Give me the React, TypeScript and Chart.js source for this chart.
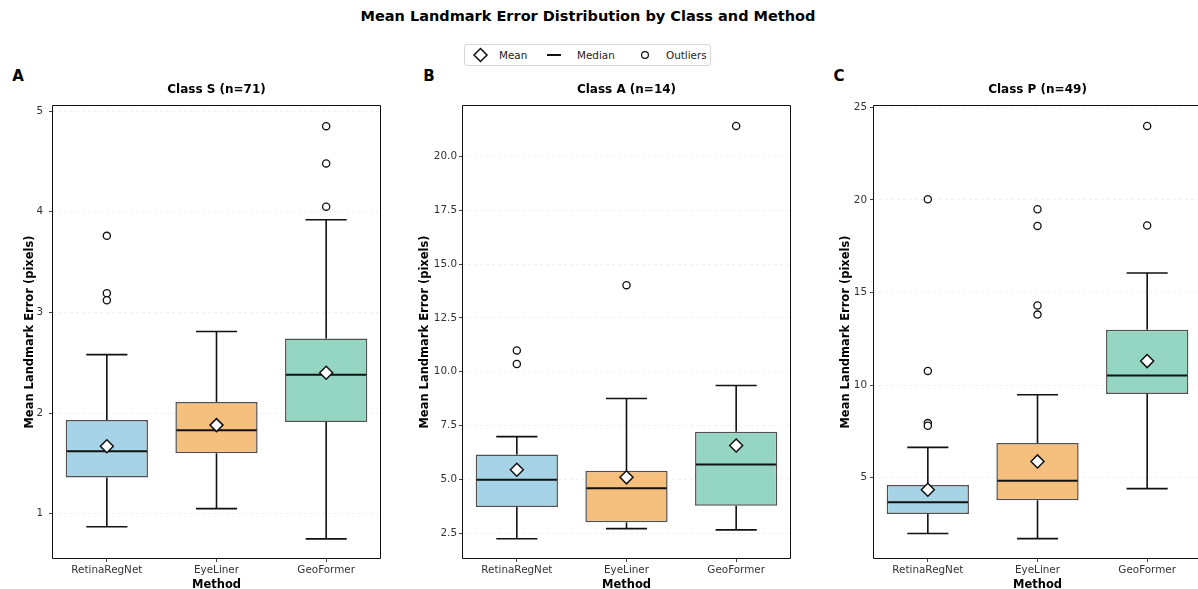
import React, { useEffect, useRef } from 'react';
import { Chart, registerables } from 'chart.js';

Chart.register(...registerables);

const FONT = "'DejaVu Sans', 'Liberation Sans', sans-serif";

// ---------- data ----------
const methods = ['RetinaRegNet', 'EyeLiner', 'GeoFormer'];
const panelTitles = ['Class S (n=71)', 'Class A (n=14)', 'Class P (n=49)'];
const panelLetters = ['A', 'B', 'C'];
const boxColors = ['#a6d4e6', '#f5bf7e', '#94d6c2'];

// Class S
const sQ1 = [1.36, 1.6, 1.91];
const sQ3 = [1.93, 2.11, 2.74];
const sMedian = [1.62, 1.83, 2.38];
const sMean = [1.67, 1.88, 2.4];
const sWhiskerLow = [0.87, 1.05, 0.75];
const sWhiskerHigh = [2.58, 2.81, 3.92];
const sOutliers = [[3.76, 3.19, 3.12], [], [4.85, 4.48, 4.05]];

// Class A
const aQ1 = [3.72, 3.01, 3.78];
const aQ3 = [6.16, 5.41, 7.22];
const aMedian = [4.99, 4.59, 5.69];
const aMean = [5.45, 5.1, 6.58];
const aWhiskerLow = [2.25, 2.72, 2.66];
const aWhiskerHigh = [6.99, 8.76, 9.36];
const aOutliers = [[10.99, 10.36], [14.02], [21.41]];

// Class P
const pQ1 = [3.04, 3.78, 9.52];
const pQ3 = [4.61, 6.87, 12.99];
const pMedian = [3.67, 4.84, 10.52];
const pMean = [4.35, 5.88, 11.3];
const pWhiskerLow = [1.99, 1.71, 4.41];
const pWhiskerHigh = [6.64, 9.48, 16.06];
const pOutliers = [[20.04, 10.77, 7.95, 7.81], [19.5, 18.6, 14.3, 13.81], [24.0, 18.62]];

// axis ranges / ticks
const yMins = [0.55, 1.31, 0.61];
const yMaxs = [5.06, 22.38, 25.13];
const yStepSizes = [1, 2.5, 5];
const yTickDecimals = [0, 1, 0];

const panelsData = [
  { q1: sQ1, q3: sQ3, med: sMedian, mean: sMean, lo: sWhiskerLow, hi: sWhiskerHigh, out: sOutliers },
  { q1: aQ1, q3: aQ3, med: aMedian, mean: aMean, lo: aWhiskerLow, hi: aWhiskerHigh, out: aOutliers },
  { q1: pQ1, q3: pQ3, med: pMedian, mean: pMean, lo: pWhiskerLow, hi: pWhiskerHigh, out: pOutliers },
];

// ---------- layout (not data) ----------
const CANVAS_TOP = 78;
const CANVAS_BOTTOM = 592;
const PLOT_TOP = 105;
const PLOT_BOTTOM = 559;
const layouts = [
  { left: 20, axisW: 32, plotW: 329, titlePad: 3, tickPad: 6 },
  { left: 412, axisW: 50, plotW: 329, titlePad: 6, tickPad: 2 },
  { left: 833, axisW: 40, plotW: 329, titlePad: 6, tickPad: 3 },
];

function BoxPanel({ idx }: { idx: number }) {
  const ref = useRef<HTMLCanvasElement | null>(null);
  const L = layouts[idx];
  const padRight = 3;
  const extra = 5;
  const width = L.axisW + L.plotW + padRight + extra;
  const height = CANVAS_BOTTOM - CANVAS_TOP;

  useEffect(() => {
    const d = panelsData[idx];
    const outlierPoints: { x: string; y: number }[] = [];
    d.out.forEach((arr, i) => arr.forEach((v) => outlierPoints.push({ x: methods[i], y: v })));

    const boxExtras = {
      id: 'boxExtras' + idx,
      afterDatasetDraw(chart: any, args: any) {
        if (args.index !== 0) return;
        const { ctx } = chart;
        const ys = chart.scales.y;
        const meta = chart.getDatasetMeta(0);
        ctx.save();
        ctx.strokeStyle = '#111';
        ctx.lineCap = 'butt';
        const line = (x1: number, y1: number, x2: number, y2: number) => {
          ctx.beginPath();
          ctx.moveTo(x1, y1);
          ctx.lineTo(x2, y2);
          ctx.stroke();
        };
        meta.data.forEach((bar: any, i: number) => {
          const x = bar.x;
          const w = bar.width;
          const yQ1 = ys.getPixelForValue(d.q1[i]);
          const yQ3 = ys.getPixelForValue(d.q3[i]);
          const yLo = ys.getPixelForValue(d.lo[i]);
          const yHi = ys.getPixelForValue(d.hi[i]);
          const yMed = ys.getPixelForValue(d.med[i]);
          ctx.lineWidth = 1.6;
          line(x, yQ3, x, yHi);
          line(x, yQ1, x, yLo);
          line(x - w / 4, yHi, x + w / 4, yHi);
          line(x - w / 4, yLo, x + w / 4, yLo);
          ctx.lineWidth = 2;
          line(x - w / 2 + 1, yMed, x + w / 2 - 1, yMed);
        });
        ctx.restore();
      },
    };

    const frame = {
      id: 'frame' + idx,
      afterDraw(chart: any) {
        const { ctx, chartArea } = chart;
        const l = Math.round(chartArea.left) + 0.5;
        const t = Math.round(chartArea.top) + 0.5;
        const r = Math.round(chartArea.right) - 0.5;
        const b = Math.round(chartArea.bottom) - 0.5;
        ctx.save();
        ctx.lineWidth = 1;
        ctx.strokeStyle = '#111';
        ctx.beginPath();
        ctx.moveTo(l, t);
        ctx.lineTo(r, t);
        ctx.lineTo(r, b);
        ctx.lineTo(l, b);
        ctx.closePath();
        ctx.stroke();
        ctx.fillStyle = '#000';
        ctx.font = `bold 12px ${FONT}`;
        ctx.textAlign = 'center';
        ctx.textBaseline = 'middle';
        ctx.fillText(panelTitles[idx], (chartArea.left + chartArea.right) / 2, chartArea.top - 15);
        ctx.restore();
      },
    };

    const chart = new Chart(ref.current as HTMLCanvasElement, {
      type: 'bar',
      data: {
        labels: methods,
        datasets: [
          {
            type: 'bar',
            data: d.q1.map((v, i) => [v, d.q3[i]]) as any,
            backgroundColor: boxColors,
            borderColor: '#505050',
            borderWidth: 1.5,
            borderSkipped: false,
            categoryPercentage: 1,
            barPercentage: 0.75,
            order: 3,
          } as any,
          {
            type: 'line',
            data: outlierPoints as any,
            showLine: false,
            pointStyle: 'circle',
            pointRadius: 3.6,
            pointBackgroundColor: '#fff',
            pointBorderColor: '#111',
            pointBorderWidth: 1.3,
            order: 2,
          } as any,
          {
            type: 'line',
            data: d.mean,
            showLine: false,
            pointStyle: 'rectRot',
            pointRadius: 6.5,
            pointBackgroundColor: '#fff',
            pointBorderColor: '#111',
            pointBorderWidth: 1.5,
            order: 1,
          } as any,
        ],
      },
      options: {
        responsive: false,
        animation: false,
        devicePixelRatio: 1,
        layout: { padding: { top: PLOT_TOP - CANVAS_TOP, right: padRight, left: 0, bottom: 0 } },
        plugins: {
          legend: { display: false },
          tooltip: { enabled: false },
          title: { display: false },
        },
        scales: {
          x: {
            type: 'category',
            offset: true,
            grid: {
              display: true,
              drawOnChartArea: false,
              offset: false,
              drawTicks: true,
              tickLength: 3,
              tickColor: '#444',
              tickWidth: 1,
            },
            border: { display: false },
            ticks: {
              color: '#333',
              font: { family: FONT, size: 10.4 },
              padding: 2,
              maxRotation: 0,
              autoSkip: false,
            },
            title: {
              display: true,
              text: 'Method',
              color: '#000',
              font: { family: FONT, size: 11.5, weight: 'bold' },
              padding: { top: 0, bottom: 0 },
            },
            afterFit: (s: any) => {
              s.height = CANVAS_BOTTOM - PLOT_BOTTOM;
            },
          } as any,
          y: {
            type: 'linear',
            min: yMins[idx],
            max: yMaxs[idx],
            grid: {
              color: 'rgba(0,0,0,0.08)',
              lineWidth: 0.8,
              drawTicks: true,
              tickLength: 3,
              tickColor: '#444',
              tickWidth: 1,
              tickBorderDash: [],
            },
            border: { display: false, dash: [3, 3] },
            ticks: {
              stepSize: yStepSizes[idx],
              includeBounds: false,
              color: '#333',
              font: { family: FONT, size: 10.4 },
              padding: L.tickPad,
              callback: (v: any) => Number(v).toFixed(yTickDecimals[idx]),
            },
            title: {
              display: true,
              text: 'Mean Landmark Error (pixels)',
              color: '#000',
              font: { family: FONT, size: 11.5, weight: 'bold' },
              padding: { top: L.titlePad, bottom: 0 },
            },
            afterFit: (s: any) => {
              s.width = L.axisW;
            },
          } as any,
        },
      },
      plugins: [boxExtras, frame],
    } as any);
    return () => chart.destroy();
  }, [idx]);

  return (
    <canvas
      ref={ref}
      width={width}
      height={height}
      style={{ position: 'absolute', left: L.left, top: CANVAS_TOP, width, height }}
    />
  );
}

function Legend() {
  const textStyle: React.CSSProperties = {
    position: 'absolute',
    top: 10,
    transform: 'translateY(-50%)',
    fontSize: 10.4,
    lineHeight: '12px',
    color: '#222',
    whiteSpace: 'nowrap',
  };
  return (
    <div
      style={{
        position: 'absolute',
        left: 464,
        top: 44,
        width: 247,
        height: 22,
        border: '1px solid #d6d6d6',
        borderRadius: 3,
        boxSizing: 'border-box',
        background: '#fff',
      }}
    >
      <svg width={247} height={22} style={{ position: 'absolute', left: -1, top: -1 }}>
        <polygon points="16.5,4.5 23,11 16.5,17.5 10,11" fill="#fff" stroke="#111" strokeWidth={1.5} />
        <line x1={83} y1={11} x2={97} y2={11} stroke="#111" strokeWidth={2} />
        <circle cx={181} cy={11} r={3.4} fill="#fff" stroke="#111" strokeWidth={1.2} />
      </svg>
      <span style={{ ...textStyle, left: 34 }}>Mean</span>
      <span style={{ ...textStyle, left: 112 }}>Median</span>
      <span style={{ ...textStyle, left: 201 }}>Outliers</span>
    </div>
  );
}

export default function App() {
  const letterStyle: React.CSSProperties = {
    position: 'absolute',
    top: 76,
    transform: 'translate(-50%, -50%)',
    fontSize: 15,
    fontWeight: 'bold',
    lineHeight: '16px',
    color: '#000',
  };
  const letterX = [18, 429, 839];
  return (
    <div
      style={{
        position: 'fixed',
        left: 0,
        top: 0,
        width: 1198,
        height: 589,
        overflow: 'hidden',
        background: '#fff',
        fontFamily: FONT,
      }}
    >
      <div
        style={{
          position: 'absolute',
          left: 588,
          top: 16,
          transform: 'translate(-50%, -50%)',
          fontSize: 14.5,
          fontWeight: 'bold',
          lineHeight: '17px',
          whiteSpace: 'nowrap',
          color: '#000',
        }}
      >
        Mean Landmark Error Distribution by Class and Method
      </div>
      <Legend />
      {panelLetters.map((l, i) => (
        <div key={l} style={{ ...letterStyle, left: letterX[i] }}>
          {l}
        </div>
      ))}
      {[0, 1, 2].map((i) => (
        <BoxPanel key={i} idx={i} />
      ))}
    </div>
  );
}
